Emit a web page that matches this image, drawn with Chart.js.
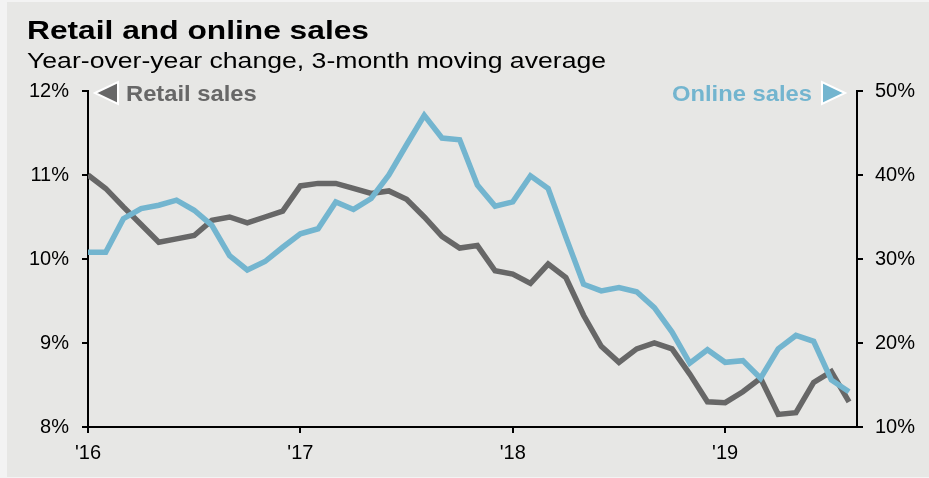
<!DOCTYPE html>
<html>
<head>
<meta charset="utf-8">
<script src="https://cdn.jsdelivr.net/npm/chart.js@4.4.1/dist/chart.umd.min.js"></script>
<style>
  html, body { margin: 0; padding: 0; background: #f3f3f3; }
  #wrap { width: 929px; height: 478px; position: relative; }
</style>
</head>
<body>
<div id="wrap"><canvas id="salesChart"></canvas></div>
<script>
// monthly, Jan 2016 - Aug 2019
const months = [
  "Jan 16", "Feb 16", "Mar 16", "Apr 16", "May 16", "Jun 16", "Jul 16", "Aug 16", "Sep 16", "Oct 16", "Nov 16", "Dec 16",
  "Jan 17", "Feb 17", "Mar 17", "Apr 17", "May 17", "Jun 17", "Jul 17", "Aug 17", "Sep 17", "Oct 17", "Nov 17", "Dec 17",
  "Jan 18", "Feb 18", "Mar 18", "Apr 18", "May 18", "Jun 18", "Jul 18", "Aug 18", "Sep 18", "Oct 18", "Nov 18", "Dec 18",
  "Jan 19", "Feb 19", "Mar 19", "Apr 19", "May 19", "Jun 19", "Jul 19", "Aug 19"
];

// retail sales, y/y %, 3mma (left axis)
const retailSales = [
  11.00, 10.84, 10.62, 10.41, 10.20, 10.24, 10.28, 10.46, 10.50, 10.43, 10.50, 10.57,
  10.87, 10.90, 10.90, 10.84, 10.78, 10.81, 10.71, 10.50, 10.27, 10.13, 10.16, 9.86,
  9.82, 9.71, 9.94, 9.78, 9.33, 8.96, 8.77, 8.93, 9.00, 8.93, 8.63, 8.30,
  8.29, 8.42, 8.58, 8.15, 8.17, 8.53, 8.66, 8.30
];

// online sales, y/y %, 3mma (right axis)
const onlineSales = [
  30.8, 30.8, 34.8, 36.0, 36.4, 37.0, 35.8, 34.0, 30.4, 28.7, 29.7, 31.4,
  33.0, 33.6, 36.8, 35.9, 37.2, 40.0, 43.6, 47.1, 44.4, 44.2, 38.8, 36.3,
  36.8, 39.9, 38.4, 32.6, 27.0, 26.2, 26.6, 26.1, 24.2, 21.3, 17.6, 19.2,
  17.7, 17.9, 15.8, 19.3, 20.9, 20.2, 15.6, 14.2
];

const yearLabels = ["'16", "'17", "'18", "'19"];
const yearTicks = [0, 12, 24, 36];

const GREY = "#676767";
const BLUE = "#73b5cf";
const FONT = "'Liberation Sans', Arial, Helvetica, sans-serif";

// draws the background panel, headings and the two axis keys
const decorations = {
  id: "decorations",
  beforeDraw(chart) {
    const ctx = chart.ctx;
    ctx.save();
    ctx.fillStyle = "#f3f3f3";
    ctx.fillRect(0, 0, chart.width, chart.height);
    ctx.fillStyle = "#e7e7e5";
    ctx.fillRect(7, 2, chart.width - 7, chart.height - 3);
    ctx.restore();
  },
  afterDraw(chart) {
    const ctx = chart.ctx;
    const area = chart.chartArea;

    const stretchText = (text, x, y, font, color, sx, align) => {
      ctx.save();
      ctx.font = font;
      ctx.fillStyle = color;
      ctx.textBaseline = "alphabetic";
      const w = ctx.measureText(text).width * sx;
      const left = align === "right" ? x - w : x;
      ctx.translate(left, y);
      ctx.scale(sx, 1);
      ctx.fillText(text, 0, 0);
      ctx.restore();
      return w;
    };

    const triangle = (pts, color) => {
      ctx.save();
      ctx.beginPath();
      ctx.moveTo(pts[0][0], pts[0][1]);
      ctx.lineTo(pts[1][0], pts[1][1]);
      ctx.lineTo(pts[2][0], pts[2][1]);
      ctx.closePath();
      ctx.fillStyle = color;
      ctx.fill();
      ctx.lineWidth = 2;
      ctx.strokeStyle = "#ffffff";
      ctx.stroke();
      ctx.restore();
    };

    stretchText("Retail and online sales", 27, 39, "bold 26px " + FONT, "#000000", 1.22);
    stretchText("Year-over-year change, 3-month moving average", 27, 68, "22px " + FONT, "#000000", 1.21);

    // left key
    const ky = area.top + 2;
    triangle([[area.left + 7, ky], [area.left + 30, ky - 11], [area.left + 30, ky + 11]], GREY);
    stretchText("Retail sales", area.left + 38, ky + 8, "bold 22px " + FONT, GREY, 1.08);

    // right key
    triangle([[area.right - 12, ky], [area.right - 35, ky - 11], [area.right - 35, ky + 11]], BLUE);
    stretchText("Online sales", area.right - 45, ky + 8, "bold 22px " + FONT, BLUE, 1.08, "right");
  }
};

const ctx = document.getElementById("salesChart").getContext("2d");
new Chart(ctx, {
  type: "line",
  data: {
    datasets: [
      {
        label: "Online sales",
        data: onlineSales.map((v, i) => ({ x: i, y: v })),
        yAxisID: "yOnline",
        borderColor: BLUE,
        borderWidth: 5.5,
        borderJoinStyle: "miter",
        pointRadius: 0,
        tension: 0,
        order: 0,
      },
      {
        label: "Retail sales",
        data: retailSales.map((v, i) => ({ x: i, y: v })),
        yAxisID: "yRetail",
        borderColor: GREY,
        borderWidth: 5.5,
        borderJoinStyle: "miter",
        pointRadius: 0,
        tension: 0,
        order: 1,
      },
    ],
  },
  options: {
    responsive: true,
    maintainAspectRatio: false,
    animation: false,
    layout: { padding: { top: 91, left: 0, right: 0, bottom: 0 } },
    plugins: {
      legend: { display: false },
      tooltip: {
        callbacks: {
          title: (items) => months[items[0].parsed.x],
          label: (c) => `${c.dataset.label}: ${c.parsed.y.toFixed(1)}%`,
        },
      },
    },
    scales: {
      x: {
        type: "linear",
        min: 0,
        max: 43.45,
        afterBuildTicks: (scale) => {
          scale.ticks = yearTicks.map((v) => ({ value: v }));
        },
        afterFit: (scale) => {
          scale.height = 51;
        },
        ticks: {
          autoSkip: false,
          maxRotation: 0,
          padding: 8,
          color: "#000",
          font: { family: FONT, size: 20 },
          callback: (v) => yearLabels[yearTicks.indexOf(v)],
        },
        grid: { drawOnChartArea: false, drawTicks: true, tickLength: 6, color: "#000", lineWidth: 2 },
        border: { display: true, color: "#000", width: 2 },
      },
      yRetail: {
        position: "left",
        min: 8,
        max: 12,
        afterFit: (scale) => {
          scale.width = 88;
        },
        ticks: {
          stepSize: 1,
          padding: 13,
          color: "#000",
          font: { family: FONT, size: 20 },
          callback: (v) => v + "%",
        },
        grid: { drawOnChartArea: false, drawTicks: true, tickLength: 6, color: "#000", lineWidth: 2 },
        border: { display: true, color: "#000", width: 2 },
      },
      yOnline: {
        position: "right",
        min: 10,
        max: 50,
        afterFit: (scale) => {
          scale.width = 72;
        },
        ticks: {
          stepSize: 10,
          padding: 12,
          color: "#000",
          font: { family: FONT, size: 20 },
          callback: (v) => v + "%",
        },
        grid: { drawOnChartArea: false, drawTicks: true, tickLength: 6, color: "#000", lineWidth: 2 },
        border: { display: true, color: "#000", width: 2 },
      },
    },
  },
  plugins: [decorations],
});
</script>
</body>
</html>
